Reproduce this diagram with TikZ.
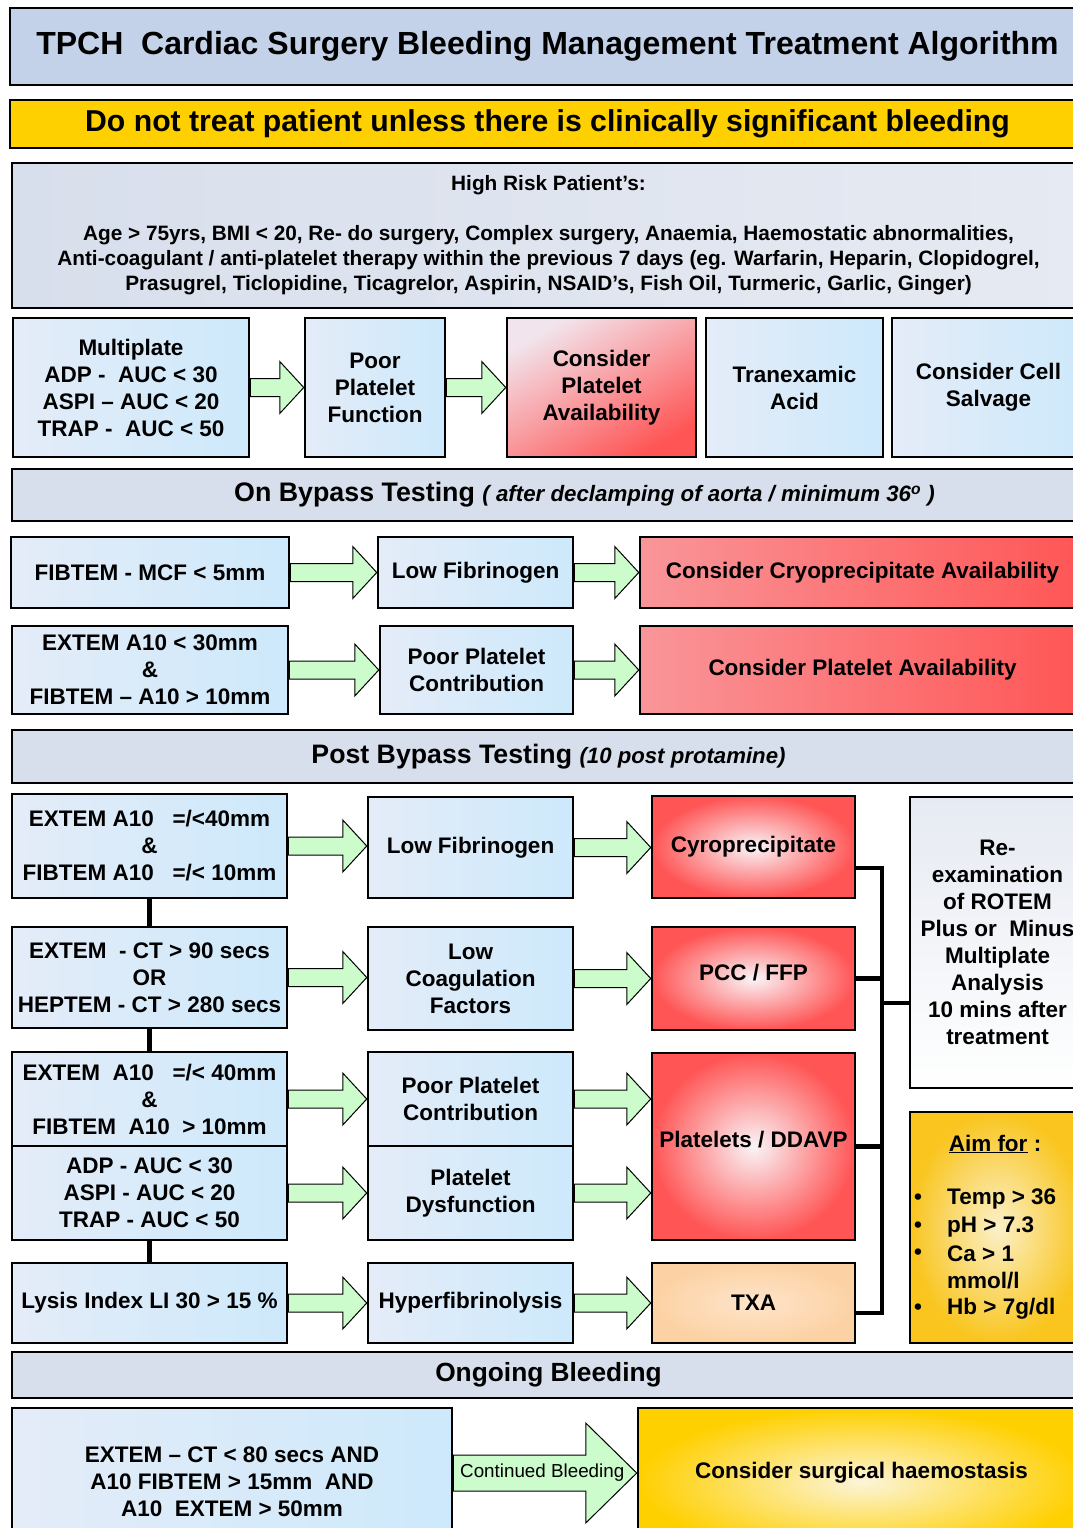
\documentclass[tikz,border=0pt]{standalone}
\usepackage{fontspec}
\setmainfont{Liberation Sans}
\usetikzlibrary{calc}

\definecolor{skyL}{HTML}{E4ECF8}
\definecolor{skyR}{HTML}{CDE9FB}
\definecolor{redA}{HTML}{FF5555}
\definecolor{roseA}{HTML}{F2E4EC}
\definecolor{peachA}{HTML}{FCD2A4}
\definecolor{peachB}{HTML}{FEE4CA}
\definecolor{goldA}{HTML}{FFD000}
\definecolor{goldB}{HTML}{FFE96E}
\definecolor{greyA}{HTML}{D8DFEC}
\definecolor{greyB}{HTML}{E6EAF2}
\definecolor{titA}{HTML}{C3D2E9}
\definecolor{titB}{HTML}{DCE4F1}
\definecolor{aimA}{HTML}{F9C51E}
\definecolor{aimB}{HTML}{FBF0C8}
\definecolor{arrG}{HTML}{CCFCCC}

% box from (x1,y1) to (x2,y2), pixel units
\newcommand{\cellbox}[7]{\node[#2,minimum width={(#5)-(#3)},minimum height={(#6)-(#4)}] (#1) at ({((#3)+(#5))/2},{((#4)+(#6))/2}) {#7};}
% block arrow: start point, target node, shaft half, head half, head length
\newcommand{\fatarrow}[5]{%
  \path (#1) coordinate (s) (#2.west |- s) coordinate (e);
  \draw[fatarr] ($(s)+(0,#3)$) -- ($(e)+(-#5,#3)$) -- ($(e)+(-#5,#4)$) -- (e)
    -- ($(e)+(-#5,-#4)$) -- ($(e)+(-#5,-#3)$) -- ($(s)+(0,-#3)$) -- cycle;}

\begin{document}
\begin{tikzpicture}[x=1pt,y=-1pt,
  font=\fontsize{22.5}{27}\selectfont\bfseries,
  base/.style={draw,line width=2.5pt,inner sep=1pt,align=center},
  bluebox/.style={base,left color=skyL,right color=skyR},
  redbox/.style={base,top color=roseA,bottom color=redA,shading angle=30},
  redbar/.style={base,left color=redA!55!roseA,right color=redA},
  redglow/.style={base,inner color=roseA!40!white,outer color=redA},
  peachbox/.style={base,inner color=peachB,outer color=peachA},
  whitebox/.style={base,top color=greyB,bottom color=white},
  aimbox/.style={base,inner color=aimB,outer color=aimA},
  goldglow/.style={base,inner color=aimB!70!white,outer color=goldA},
  titlebox/.style={base,left color=titA,middle color=titB,right color=titA},
  yellowbar/.style={base,left color=goldA,middle color=goldB,right color=goldA},
  banner/.style={base,left color=greyA,middle color=greyB,right color=greyA},
  fatarr/.style={draw=black,fill=arrG,line width=1pt,line join=miter},
  bus/.style={line width=4.5pt}]
\useasboundingbox (0,0) rectangle (1072,1528);

% headers
\cellbox{title}{titlebox,font=\fontsize{32}{38}\selectfont\bfseries}{10}{8}{1085}{85}{TPCH\ \ Cardiac Surgery Bleeding Management Treatment Algorithm}
\cellbox{warn}{yellowbar,font=\fontsize{30.2}{36}\selectfont\bfseries}{10}{100}{1085}{148}{Do not treat patient unless there is clinically significant bleeding}
\cellbox{risk}{base,left color=greyA,right color=greyB,font=\fontsize{20.8}{25}\selectfont\bfseries}{12}{163}{1085}{308}{High Risk Patient’s:\\[25pt]
  Age > 75yrs, BMI < 20, Re- do surgery, Complex surgery, Anaemia, Haemostatic abnormalities,\\
  Anti-coagulant / anti-platelet therapy within the previous 7 days (eg. Warfarin, Heparin, Clopidogrel,\\
  Prasugrel, Ticlopidine, Ticagrelor, Aspirin, NSAID’s, Fish Oil, Turmeric, Garlic, Ginger)}

% pre bypass
\cellbox{mp}{bluebox}{13}{318}{249}{457}{Multiplate\\ADP -\ \ AUC < 30\\ASPI – AUC < 20\\TRAP -\ \ AUC < 50}
\cellbox{ppf}{bluebox}{305}{318}{445}{457}{Poor\\Platelet\\Function}
\cellbox{cpa}{redbox}{507}{318}{696}{457}{Consider\\Platelet\\Availability}
\cellbox{tra}{bluebox}{706}{318}{883}{457}{Tranexamic\\Acid}
\cellbox{ccs}{bluebox}{892}{318}{1085}{457}{Consider Cell\\Salvage}

% on bypass
\cellbox{onbp}{banner}{12}{469}{1085}{521}{\hspace*{72pt}\fontsize{26.8}{30}\selectfont On Bypass Testing {\fontsize{22.3}{26}\selectfont\itshape ( after declamping of aorta / minimum 36\textsuperscript{o} )}}
\cellbox{fib}{bluebox}{11}{537}{289}{608}{FIBTEM - MCF < 5mm}
\cellbox{lfa}{bluebox}{378}{537}{573}{608}{Low Fibrinogen}
\cellbox{cca}{redbar}{640}{537}{1085}{608}{Consider Cryoprecipitate Availability}
\cellbox{ext}{bluebox}{12}{626}{288}{714}{EXTEM A10 < 30mm\\\&\\FIBTEM – A10 > 10mm}
\cellbox{ppa}{bluebox}{380}{626}{573}{714}{Poor Platelet\\Contribution}
\cellbox{cpb}{redbar}{640}{626}{1085}{714}{Consider Platelet Availability}

% post bypass
\cellbox{pobp}{banner}{12}{730}{1085}{783}{\fontsize{26.7}{30}\selectfont Post Bypass Testing {\fontsize{22.2}{26}\selectfont\itshape (10 post protamine)}}
\cellbox{la}{bluebox}{12}{794}{287}{898}{EXTEM A10\ \ \ =/<40mm\\\&\\FIBTEM A10\ \ \ =/< 10mm}
\cellbox{lb}{bluebox}{12}{927}{287}{1028}{EXTEM\ \ - CT > 90 secs\\OR\\HEPTEM - CT > 280 secs}
\cellbox{lc}{bluebox}{12}{1052}{287}{1146}{EXTEM\ \ A10\ \ \ =/< 40mm\\\&\\FIBTEM\ \ A10\ \ > 10mm}
\cellbox{ld}{bluebox}{12}{1146}{287}{1240}{ADP - AUC < 30\\ASPI - AUC < 20\\TRAP - AUC < 50}
\cellbox{le}{bluebox}{12}{1263}{287}{1343}{Lysis Index LI 30 > 15 \%}
\cellbox{ma}{bluebox}{368}{797}{573}{898}{Low Fibrinogen}
\cellbox{mb}{bluebox}{368}{927}{573}{1030}{Low\\Coagulation\\Factors}
\cellbox{mc}{bluebox}{368}{1052}{573}{1146}{Poor Platelet\\Contribution}
\cellbox{md}{bluebox}{368}{1146}{573}{1240}{Platelet\\Dysfunction}
\cellbox{me}{bluebox}{368}{1263}{573}{1343}{Hyperfibrinolysis}
\cellbox{ra}{redglow}{652}{796}{855}{898}{Cyroprecipitate}
\cellbox{rb}{redglow}{652}{927}{855}{1030}{\raisebox{13pt}{PCC / FFP}}
\cellbox{rc}{redglow}{652}{1053}{855}{1240}{\raisebox{15pt}{Platelets / DDAVP}}
\cellbox{rd}{peachbox}{652}{1263}{855}{1343}{TXA}
\cellbox{rx}{whitebox}{910}{797}{1085}{1088}{Re-\\examination\\of ROTEM\\Plus or\ \ Minus\\Multiplate\\Analysis\\10 mins after\\treatment}
\cellbox{aim}{aimbox}{910}{1112}{1085}{1343}{}
\node (aimh) at (995,1144) {\underline{Aim for} :};
\foreach \y/\t in {1199/{Temp > 36},1227/{pH > 7.3},1254/{Ca > 1},1309/{Hb > 7g/dl}}{
  \node (dot\y) at (918,\y) {\textbullet};
  \node[anchor=west,inner sep=0pt] (aim\y) at (947,\y) {\t};
}
\node[anchor=west,inner sep=0pt] (aimu) at (947,1281) {mmol/l};

% ongoing
\cellbox{ong}{banner}{12}{1352}{1085}{1398}{\fontsize{26.3}{30}\selectfont Ongoing Bleeding}
\cellbox{fin}{bluebox}{12}{1408}{452}{1556}{EXTEM – CT < 80 secs AND\\A10 FIBTEM > 15mm\ \ AND\\A10\ \ EXTEM > 50mm}
\cellbox{surg}{goldglow}{638}{1408}{1085}{1556}{\raisebox{24pt}{Consider surgical haemostasis}}

% arrows
\foreach \a/\b in {mp/ppf,ppf/cpa,fib/lfa,lfa/cca,ext/ppa,ppa/cpb,la/ma,lb/mb,lc/mc,ld/md,le/me,ma/ra,mb/rb,mc/rc,md/rc,me/rd}
  \fatarrow{\a.east}{\b}{9}{26}{24};
\coordinate (cbs) at ([yshift=9pt]fin.east);
\fatarrow{cbs}{surg}{18}{50}{51}
\node[font=\fontsize{18.8}{22}\selectfont] (cbl) at ($(cbs)+(89,0)$) {Continued Bleeding};

% connectors
\draw[bus] (la.south) -- (lb.north) (lb.south) -- (lc.north) (ld.south) -- (le.north);
\coordinate (bt) at (882,868);
\coordinate (bb) at (882,1313);
\coordinate (br) at (882,1003);
\draw[bus] (ra.east |- bt) -- (bt) -- (bb) -- (rd.east |- bb)
  (rb.east) -- (rb.east -| bt) (rc.east) -- (rc.east -| bt) (br) -- (rx.west |- br);
\end{tikzpicture}
\end{document}
